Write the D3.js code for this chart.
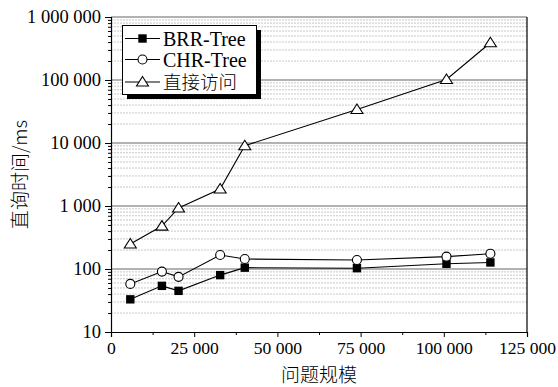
<!DOCTYPE html>
<html><head><meta charset="utf-8">
<script src="https://cdn.jsdelivr.net/npm/d3@7"></script>
<style>body{margin:0;background:#fff;}</style>
</head><body><svg id="c" width="558" height="387"></svg>
<script>
const sizes = [5800, 15300, 20300, 32800, 40200, 73900, 100800, 114000];
const brr = [33, 54, 45, 80, 105, 103, 121, 127];
const chr = [58, 91, 75, 167, 144, 139, 157, 175];
const direct = [250, 480, 930, 1860, 9060, 34000, 102000, 390000];
const seriesNames = ["BRR-Tree", "CHR-Tree", "直接访问"];
const xTicks = [0, 25000, 50000, 75000, 100000, 125000];
const yTicks = [10, 100, 1000, 10000, 100000, 1000000];
const xTitle = "问题规模";
const yTitle = "直询时间/ms";

const SERIF = '"Liberation Serif","Times New Roman",serif';
const CJK = '"Noto Sans CJK SC",sans-serif';
const svg = d3.select("#c");
const m = {l:111, r:31, t:17, b:55};
const W = 558, H = 387;
const x = d3.scaleLinear().domain([0,125000]).range([m.l, W-m.r]);
const y = d3.scaleLog().domain([10,1000000]).range([H-m.b, m.t]);
const fmt = v => d3.format(",")(v).replace(/,/g, " ");

// minor grid
const minor = [];
for (let d=10; d<1000000; d*=10) for (let k=2;k<=9;k++) minor.push(d*k);
svg.append("g").selectAll("line").data(minor).join("line")
  .attr("x1", m.l).attr("x2", W-m.r).attr("y1", d=>y(d)).attr("y2", d=>y(d))
  .attr("stroke", "#c8c8c8").attr("stroke-width", 1).attr("stroke-dasharray", "2,1");
svg.append("g").selectAll("line").data(yTicks.slice(1)).join("line")
  .attr("x1", m.l).attr("x2", W-m.r).attr("y1", d=>y(d)).attr("y2", d=>y(d))
  .attr("stroke", "#999").attr("stroke-width", 1.3);

// right frame
svg.append("line").attr("x1", W-m.r).attr("x2", W-m.r).attr("y1", m.t).attr("y2", H-m.b)
  .attr("stroke", "#000").attr("stroke-width", 1.2);

// axes
const gx = svg.append("g").attr("transform", `translate(0,${H-m.b})`)
  .call(d3.axisBottom(x).tickValues(xTicks).tickFormat(fmt).tickSize(5).tickPadding(5));
svg.append("g").attr("transform", `translate(0,${H-m.b})`)
  .call(d3.axisBottom(x).tickValues([12500,37500,62500,87500,112500]).tickFormat("").tickSize(3))
  .select(".domain").remove();
const gy = svg.append("g").attr("transform", `translate(${m.l},0)`)
  .call(d3.axisLeft(y).tickValues(yTicks).tickFormat(fmt).tickSize(6).tickPadding(4));
svg.append("g").attr("transform", `translate(${m.l},0)`)
  .call(d3.axisLeft(y).tickValues(minor).tickFormat("").tickSize(3))
  .select(".domain").remove();
gx.attr("font-family", SERIF).attr("font-size", 17.6);
gy.attr("font-family", SERIF).attr("font-size", 18.5);
svg.selectAll(".domain").attr("stroke", "#000").attr("stroke-width", 1.2);
svg.selectAll(".tick line").attr("stroke", "#000");
svg.selectAll(".tick text").attr("fill", "#000");

// axis titles
svg.append("text").attr("x", x(62500)).attr("y", 382).attr("text-anchor", "middle").attr("fill", "#000")
  .attr("font-family", CJK).attr("font-size", 19).attr("font-weight", 300).text(xTitle);
svg.append("text").attr("transform", `translate(27,${(m.t + H - m.b)/2}) rotate(-90)`).attr("fill", "#000")
  .attr("text-anchor", "middle").attr("font-family", CJK).attr("font-size", 19).attr("font-weight", 300).text(yTitle);

// lines
const line = d3.line().x((d,i)=>x(sizes[i])).y(d=>y(d));
const all = [brr, chr, direct];
all.forEach(s => svg.append("path").datum(s).attr("d", line).attr("fill","none").attr("stroke","#000").attr("stroke-width",1.1));

function marker(g, type, cx, cy) {
  if (type===0) g.append("rect").attr("x", cx-4.2).attr("y", cy-4.2).attr("width", 8.4).attr("height", 8.4).attr("fill", "#000");
  else if (type===1) g.append("circle").attr("cx", cx).attr("cy", cy).attr("r", 4.5).attr("fill", "#fff").attr("stroke", "#000").attr("stroke-width", 1.1);
  else g.append("path").attr("d", `M${cx},${cy-5.5}L${cx+6},${cy+4}L${cx-6},${cy+4}Z`).attr("fill", "#fff").attr("stroke", "#000").attr("stroke-width", 1.1);
}
all.forEach((s, k) => {
  const g = svg.append("g");
  s.forEach((v,i) => marker(g, k, x(sizes[i]), y(v)));
});

// legend
const lg = svg.append("g");
lg.append("rect").attr("x", 127).attr("y", 30).attr("width", 134).attr("height", 69).attr("fill", "#000");
lg.append("rect").attr("x", 122.5).attr("y", 25.5).attr("width", 134).attr("height", 69).attr("fill", "#fff").attr("stroke", "#000").attr("stroke-width", 1);
const ly = [38.5, 59.5, 82];
seriesNames.forEach((n, k) => {
  lg.append("line").attr("x1", 125).attr("x2", 160).attr("y1", ly[k]).attr("y2", ly[k]).attr("stroke", "#000").attr("stroke-width", 1.1);
  marker(lg, k, 142.5, ly[k]);
  lg.append("text").attr("x", 163).attr("y", ly[k] + (k===2 ? 6.5 : 7)).attr("font-size", k===2 ? 18.5 : 20).attr("fill", "#000")
    .attr("font-family", k===2 ? CJK : SERIF).attr("font-weight", k===2?300:400).text(n);
});
</script></body></html>
